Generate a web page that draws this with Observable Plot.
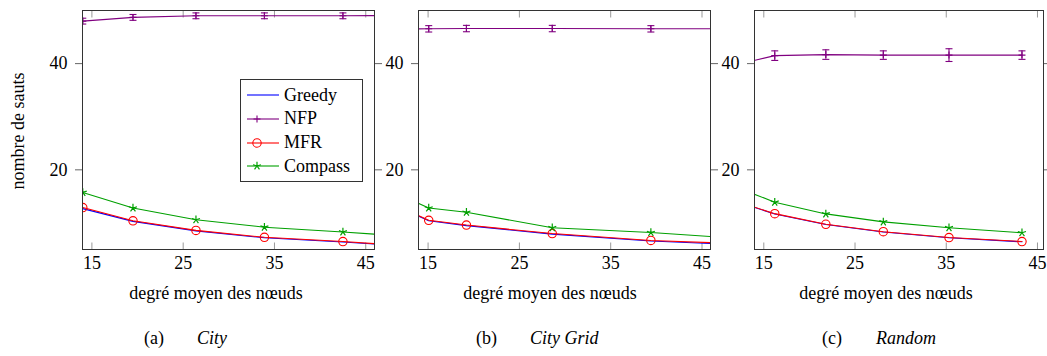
<!DOCTYPE html>
<html>
<head>
<meta charset="utf-8">
<script src="https://cdn.jsdelivr.net/npm/d3@7"></script>
<script src="https://cdn.jsdelivr.net/npm/@observablehq/plot@0.6"></script>
<style>
  html, body { margin: 0; padding: 0; background: #fff; }
  #wrap { position: relative; width: 1047px; height: 356px; overflow: hidden; font-family: "Liberation Serif", "DejaVu Serif", "Times New Roman", serif; color: #000; }
  .panel { position: absolute; top: 0; }
  .lbl { position: absolute; white-space: nowrap; font-size: 18px; line-height: 1; }
  .xl { transform: translateX(-50%); }
  .yl { transform: translate(-50%, -50%) rotate(-90deg); }
  #legend { position: absolute; left: 240px; top: 79px; width: 121px; height: 101px; border: 1px solid #333; background: #fff; }
  #legend .row { position: absolute; left: 0; height: 20px; display: flex; align-items: center; font-size: 18px; }
  #legend svg { display: block; }
</style>
</head>
<body>
<div id="wrap"></div>
<script>
// ---------- data ----------
const seriesNames = ["Greedy", "NFP", "MFR", "Compass"];
const seriesColors = ["#0000ff", "#800080", "#ff0000", "#00a000"];
const xTicks = [15, 25, 35, 45];
const yTicks = [20, 40];
const panelTags = ["(a)", "(b)", "(c)"];
const panelNames = ["City", "City Grid", "Random"];
const xAxisLabel = "degré moyen des nœuds";
const yAxisLabel = "nombre de sauts";

// (a) City
const degCity      = [14.0, 19.5, 26.4, 33.9, 42.5, 51.0];
const greedyCity   = [12.7, 10.3, 8.5, 7.2, 6.4, 5.5];
const nfpCity      = [48.0, 48.7, 49.0, 49.0, 49.0, 49.1];
const nfpErrCity   = [0.55, 0.55, 0.55, 0.55, 0.55, 0.55];
const mfrCity      = [12.9, 10.4, 8.6, 7.3, 6.5, 5.5];
const compassCity  = [15.75, 12.8, 10.6, 9.2, 8.3, 7.3];

// (b) City Grid
const degGrid      = [12.0, 15.07, 19.2, 28.6, 39.4, 52.0];
const greedyGrid   = [12.8, 10.4, 9.5, 7.9, 6.6, 5.7];
const nfpGrid      = [46.5, 46.55, 46.6, 46.6, 46.55, 46.6];
const nfpErrGrid   = [0.6, 0.6, 0.6, 0.6, 0.6, 0.6];
const mfrGrid      = [12.9, 10.5, 9.6, 8.0, 6.7, 5.9];
const compassGrid  = [15.2, 12.8, 12.0, 9.1, 8.2, 6.75];

// (c) Random
const degRandom     = [10.0, 16.2, 21.8, 28.1, 35.3, 43.3];
const greedyRandom  = [15.1, 11.7, 9.7, 8.3, 7.2, 6.45];
const nfpRandom     = [39.0, 41.5, 41.7, 41.6, 41.6, 41.6];
const nfpErrRandom  = [0.9, 0.9, 0.9, 0.8, 1.2, 0.8];
const mfrRandom     = [15.15, 11.75, 9.75, 8.35, 7.25, 6.5];
const compassRandom = [18.1, 13.9, 11.7, 10.2, 9.1, 8.15];

// ---------- custom stroke symbols ----------
const capSym   = {draw(c) { c.moveTo(-3.5, 0); c.lineTo(3.5, 0); }};
const plusSym  = {draw(c) { c.moveTo(-3.5, 0); c.lineTo(3.5, 0); c.moveTo(0, -3.5); c.lineTo(0, 3.5); }};
const starSym  = {draw(c) { const r = 4.2; for (let k = 0; k < 5; k++) { const a = -Math.PI / 2 + k * 2 * Math.PI / 5; c.moveTo(0, 0); c.lineTo(r * Math.cos(a), r * Math.sin(a)); } }};
const tickUp   = {draw(c) { c.moveTo(0, 0); c.lineTo(0, -7); }};
const tickDown = {draw(c) { c.moveTo(0, 0); c.lineTo(0, 7); }};

const FONT = '"Liberation Serif", "DejaVu Serif", "Times New Roman", serif';

function rowsFrom(deg, greedy, nfp, nfpErr, mfr, compass) {
  return deg.map((x, i) => ({x, greedy: greedy[i], nfp: nfp[i], lo: nfp[i] - nfpErr[i], hi: nfp[i] + nfpErr[i], mfr: mfr[i], compass: compass[i]}));
}

function makePanel(rows, xDomain, width, marginLeft, marginRight) {
  const [cG, cN, cM, cC] = seriesColors;
  const lw = 1.1;
  return Plot.plot({
    width, height: 280,
    marginTop: 10, marginBottom: 31, marginLeft, marginRight,
    style: {fontFamily: FONT, fontSize: "18px", background: "transparent", overflow: "visible", color: "#000"},
    x: {domain: xDomain},
    y: {domain: [5, 50]},
    marks: [
      Plot.dot(xTicks, {x: d => d, frameAnchor: "bottom", symbol: tickUp, stroke: "#999", fill: "none", strokeWidth: 1}),
      Plot.dot(xTicks, {x: d => d, frameAnchor: "top", symbol: tickDown, stroke: "#999", fill: "none", strokeWidth: 1}),
      Plot.axisX({ticks: xTicks, tickSize: 0, tickPadding: 7, label: null}),
      Plot.axisY({ticks: yTicks, tickSize: 7, tickPadding: 8, stroke: "#666", label: null}),
      Plot.axisY({anchor: "right", ticks: yTicks, tickSize: 7, tickFormat: () => "", stroke: "#666", label: null}),
      Plot.line(rows, {x: "x", y: "greedy", stroke: cG, strokeWidth: lw, clip: true}),
      Plot.line(rows, {x: "x", y: "nfp", stroke: cN, strokeWidth: lw, clip: true}),
      Plot.ruleX(rows, {x: "x", y1: "lo", y2: "hi", stroke: cN, strokeWidth: 1.1, clip: true}),
      Plot.dot(rows, {x: "x", y: "lo", symbol: capSym, stroke: cN, fill: "none", strokeWidth: 1.1, clip: true}),
      Plot.dot(rows, {x: "x", y: "hi", symbol: capSym, stroke: cN, fill: "none", strokeWidth: 1.1, clip: true}),
      Plot.dot(rows, {x: "x", y: "nfp", symbol: plusSym, stroke: cN, fill: "none", strokeWidth: 1.1, clip: true}),
      Plot.line(rows, {x: "x", y: "mfr", stroke: cM, strokeWidth: lw, clip: true}),
      Plot.dot(rows, {x: "x", y: "mfr", r: 4.2, stroke: cM, fill: "none", strokeWidth: 1.1, clip: true}),
      Plot.line(rows, {x: "x", y: "compass", stroke: cC, strokeWidth: lw, clip: true}),
      Plot.dot(rows, {x: "x", y: "compass", symbol: starSym, stroke: cC, fill: "none", strokeWidth: 1.2, clip: true}),
      Plot.frame({stroke: "#333", strokeWidth: 1})
    ]
  });
}

const wrap = document.getElementById("wrap");
const layouts = [
  {rows: rowsFrom(degCity, greedyCity, nfpCity, nfpErrCity, mfrCity, compassCity), dom: [13.97, 45.96], left: 0, width: 380, ml: 82, mr: 6, xlab: 216, capTag: 144, capName: 197},
  {rows: rowsFrom(degGrid, greedyGrid, nfpGrid, nfpErrGrid, mfrGrid, compassGrid), dom: [13.95, 45.93], left: 380, width: 336, ml: 38, mr: 6, xlab: 550, capTag: 476, capName: 530},
  {rows: rowsFrom(degRandom, greedyRandom, nfpRandom, nfpErrRandom, mfrRandom, compassRandom), dom: [13.98, 45.66], left: 716, width: 331, ml: 38, mr: 4, xlab: 886, capTag: 822, capName: 876}
];

layouts.forEach((L, i) => {
  const svg = makePanel(L.rows, L.dom, L.width, L.ml, L.mr);
  svg.classList.add("panel");
  svg.style.left = L.left + "px";
  wrap.appendChild(svg);

  const xl = document.createElement("div");
  xl.className = "lbl xl";
  xl.style.left = L.xlab + "px";
  xl.style.top = "284px";
  xl.textContent = xAxisLabel;
  wrap.appendChild(xl);

  const tag = document.createElement("div");
  tag.className = "lbl";
  tag.style.left = L.capTag + "px";
  tag.style.top = "329px";
  tag.textContent = panelTags[i];
  wrap.appendChild(tag);

  const nm = document.createElement("div");
  nm.className = "lbl";
  nm.style.left = L.capName + "px";
  nm.style.top = "329px";
  nm.style.fontStyle = "italic";
  nm.textContent = panelNames[i];
  wrap.appendChild(nm);
});

const yl = document.createElement("div");
yl.className = "lbl yl";
yl.style.left = "18px";
yl.style.top = "131px";
yl.textContent = yAxisLabel;
wrap.appendChild(yl);

const legend = document.createElement("div");
legend.id = "legend";
const rowTops = [15, 38.7, 62.7, 86];
seriesNames.forEach((name, i) => {
  const row = document.createElement("div");
  row.className = "row";
  row.style.top = (rowTops[i] - 10) + "px";
  const col = seriesColors[i];
  let marker = "";
  if (name === "NFP") marker = `<path d="M12.5,10h7M16,6.5v7" stroke="${col}" stroke-width="1.1"/>`;
  if (name === "MFR") marker = `<circle cx="16" cy="10" r="4.2" fill="none" stroke="${col}" stroke-width="1.1"/>`;
  if (name === "Compass") {
    let d = "";
    for (let k = 0; k < 5; k++) { const a = -Math.PI / 2 + k * 2 * Math.PI / 5; d += `M16,10L${(16 + 4.2 * Math.cos(a)).toFixed(2)},${(10 + 4.2 * Math.sin(a)).toFixed(2)}`; }
    marker = `<path d="${d}" stroke="${col}" stroke-width="1.2" fill="none"/>`;
  }
  row.innerHTML = `<svg width="43" height="20"><line x1="6" x2="38" y1="10" y2="10" stroke="${col}" stroke-width="1.1"/>${marker}</svg><span>${name}</span>`;
  legend.appendChild(row);
});
wrap.appendChild(legend);
</script>
</body>
</html>
